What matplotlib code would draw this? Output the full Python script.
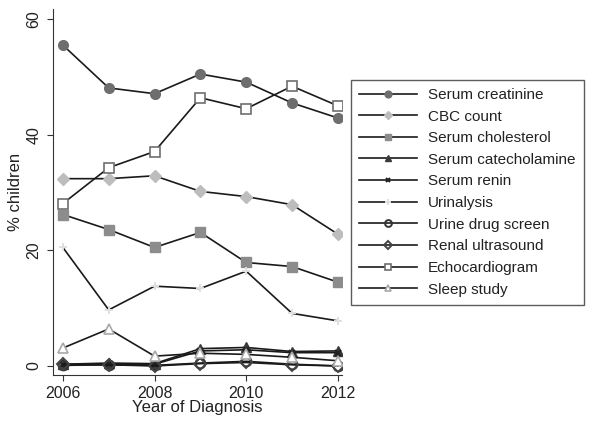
import matplotlib
matplotlib.use("Agg")
import matplotlib.pyplot as plt

plt.rcParams['font.family'] = ['Liberation Sans', 'DejaVu Sans']

years = [2006, 2007, 2008, 2009, 2010, 2011, 2012]
serum_creatinine = [55.5, 48.1, 47.1, 50.5, 49.1, 45.5, 42.9]
cbc_count = [32.4, 32.4, 32.9, 30.2, 29.3, 27.9, 22.8]
serum_cholesterol = [26.2, 23.6, 20.5, 23.1, 17.9, 17.2, 14.5]
serum_catecholamine = [0.3, 0.5, 0.4, 3.0, 3.2, 2.5, 2.6]
serum_renin = [0.2, 0.3, 0.3, 2.6, 2.8, 2.3, 2.3]
urinalysis = [20.5, 9.7, 13.8, 13.4, 16.4, 9.1, 7.8]
urine_drug_screen = [0.1, 0.2, 0.1, 0.5, 0.8, 0.3, 0.0]
renal_ultrasound = [0.3, 0.2, 0.0, 0.4, 0.6, 0.2, 0.0]
echocardiogram = [28.1, 34.3, 37.1, 46.4, 44.5, 48.4, 45.0]
sleep_study = [3.1, 6.4, 1.7, 2.2, 2.0, 1.5, 0.9]

series = [
    ("Serum creatinine", serum_creatinine, dict(marker='o', ms=7, mfc='#6e6e6e', mec='#6e6e6e')),
    ("CBC count", cbc_count, dict(marker='D', ms=6.5, mfc='#bdbdbd', mec='#bdbdbd')),
    ("Serum cholesterol", serum_cholesterol, dict(marker='s', ms=7, mfc='#8c8c8c', mec='#8c8c8c')),
    ("Serum catecholamine", serum_catecholamine, dict(marker='^', ms=7, mfc='#3a3a3a', mec='#3a3a3a')),
    ("Serum renin", serum_renin, dict(marker='x', ms=4.5, mfc='#222222', mec='#222222', mew=1.4)),
    ("Urinalysis", urinalysis, dict(marker='+', ms=5.5, mfc='#e0e0e0', mec='#e0e0e0', mew=1.4)),
    ("Urine drug screen", urine_drug_screen, dict(marker='o', ms=7, mfc='none', mec='#333333', mew=1.4)),
    ("Renal ultrasound", renal_ultrasound, dict(marker='D', ms=6.5, mfc='none', mec='#444444', mew=1.4)),
    ("Echocardiogram", echocardiogram, dict(marker='s', ms=7, mfc='white', mec='#6e6e6e', mew=1.2)),
    ("Sleep study", sleep_study, dict(marker='^', ms=7, mfc='white', mec='#a8a8a8', mew=1.2)),
]

fig = plt.figure(figsize=(6.0, 4.23), dpi=100)
ax = fig.add_axes([0.088, 0.113, 0.482, 0.865])

handles = []
for name, vals, st in series:
    h, = ax.plot(years, vals, color='#1a1a1a', lw=1.2, label=name, **st)
    handles.append(h)

ax.set_xlim(2005.78, 2012.09)
ax.set_ylim(-1.6, 61.7)
ax.set_xticks([2006, 2008, 2010, 2012])
ax.set_yticks([0, 20, 40, 60])
for lab in ax.get_yticklabels():
    lab.set_rotation(90)
    lab.set_va('center')
ax.tick_params(axis='both', labelsize=11.5, direction='out', length=4, color='#333333',
               labelcolor='#222222', pad=4)
ax.spines['top'].set_visible(False)
ax.spines['right'].set_visible(False)
ax.spines['left'].set_color('#333333')
ax.spines['bottom'].set_color('#333333')
ax.set_xlabel("Year of Diagnosis", fontsize=12, labelpad=-1, color='#222222')
ax.set_ylabel("% children", fontsize=12, labelpad=3, color='#222222')

leg = fig.legend(handles=handles, loc='upper left', bbox_to_anchor=(0.585, 0.812),
                 fontsize=11, frameon=True, fancybox=False, edgecolor='#333333',
                 handlelength=3.8, handletextpad=0.7, labelspacing=0.5,
                 borderpad=0.55, markerscale=0.7, borderaxespad=0.0)
leg.get_frame().set_linewidth(1.0)
for t in leg.get_texts():
    t.set_color('#222222')

fig.savefig("out.png", dpi=100)
